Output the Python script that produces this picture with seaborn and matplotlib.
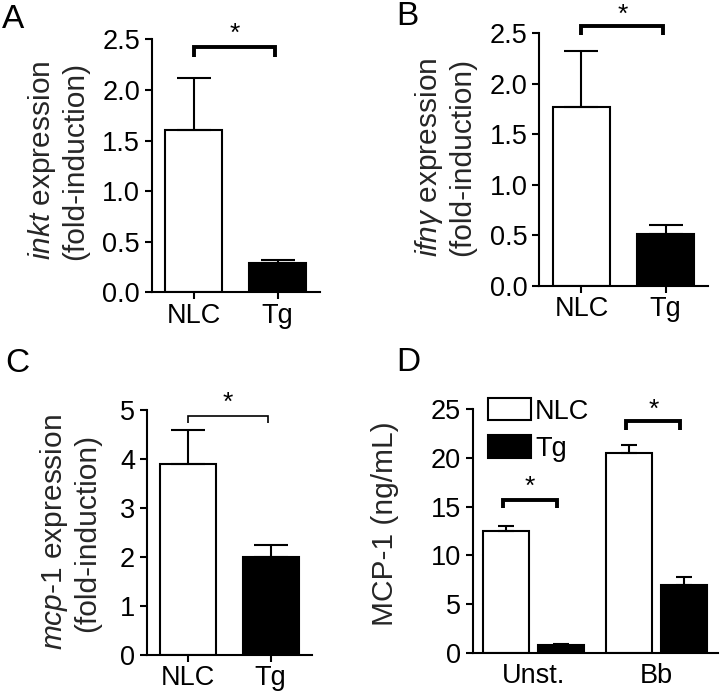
import numpy as np
import pandas as pd
import matplotlib
matplotlib.use("Agg")
import matplotlib.pyplot as plt
import seaborn as sns
from matplotlib.patches import Patch

# values (mean and upper error)
groups = ["NLC", "Tg"]
inkt_mean = [1.60, 0.29]
inkt_err = [0.52, 0.03]
ifng_mean = [1.77, 0.51]
ifng_err = [0.55, 0.09]
mcp1_mean = [3.90, 2.00]
mcp1_err = [0.70, 0.25]

conditions = ["Unst.", "Bb"]
elisa_nlc = [12.5, 20.5]
elisa_nlc_err = [0.5, 0.8]
elisa_tg = [0.8, 7.0]
elisa_tg_err = [0.1, 0.8]

sns.set_theme(style="ticks")
plt.rcParams["font.family"] = ["Liberation Sans", "DejaVu Sans"]
plt.rcParams["mathtext.fontset"] = "custom"
plt.rcParams["mathtext.rm"] = "Liberation Sans"
plt.rcParams["mathtext.it"] = "Liberation Sans:italic"
plt.rcParams["axes.linewidth"] = 1.5
plt.rcParams["xtick.major.width"] = 1.5
plt.rcParams["ytick.major.width"] = 1.5
plt.rcParams["xtick.major.size"] = 5
plt.rcParams["ytick.major.size"] = 5
plt.rcParams["xtick.major.pad"] = 2.5
plt.rcParams["xtick.labelsize"] = 19.5
plt.rcParams["ytick.labelsize"] = 19.5
plt.rcParams["xtick.color"] = "black"
plt.rcParams["ytick.color"] = "black"
plt.rcParams["axes.edgecolor"] = "black"
plt.rcParams["text.color"] = "black"

FS = 19      # stars
LFS = 21.5   # axis titles

fig = plt.figure(figsize=(7.2, 6.96), dpi=100)

ax_a = fig.add_axes([0.211, 0.580, 0.233, 0.3635])
ax_b = fig.add_axes([0.749, 0.589, 0.234, 0.3635])
ax_c = fig.add_axes([0.204, 0.0589, 0.229, 0.352])
ax_d = fig.add_axes([0.657, 0.0618, 0.340, 0.3505])


def bracket(ax, x1, x2, y, drop, lw, star_y):
    ax.plot([x1, x1, x2, x2], [y - drop, y, y, y - drop], color="black",
            lw=lw, clip_on=False, solid_capstyle="butt", solid_joinstyle="miter")
    ax.text((x1 + x2) / 2, star_y, "*", ha="center", va="center",
            fontsize=FS, clip_on=False)


def simple_panel(ax, means, errs, ymax, ystep, label, fmt):
    df = pd.DataFrame({"group": groups, "value": means})
    sns.barplot(data=df, x="group", y="value", hue="group",
                palette=["white", "black"], edgecolor="black", linewidth=1.5,
                width=0.68, errorbar=None, legend=False, ax=ax)
    centers = [p.get_x() + p.get_width() / 2 for p in ax.patches]
    ax.errorbar(centers, means, yerr=[np.zeros(len(errs)), errs], fmt="none",
                ecolor="black", elinewidth=1.5, capsize=12, capthick=1.5,
                zorder=1)
    ax.set_xlim(-0.5, 1.5)
    ax.set_ylim(0, ymax)
    ax.set_yticks(np.arange(0, ymax + 1e-9, ystep))
    ax.yaxis.set_major_formatter(matplotlib.ticker.FormatStrFormatter(fmt))
    ax.set_xlabel("")
    ax.set_ylabel(label, fontsize=LFS, linespacing=1.15)
    sns.despine(ax=ax)
    return centers


# panel A
c = simple_panel(ax_a, inkt_mean, inkt_err, 2.5, 0.5,
                 "$\\it{inkt}$ expression\n(fold-induction)", "%.1f")
ax_a.yaxis.set_label_coords(-0.375, 0.52)
bracket(ax_a, c[0], c[1] - 0.03, 2.42, 0.09, 2.8, 2.55)

# panel B
c = simple_panel(ax_b, ifng_mean, ifng_err, 2.5, 0.5,
                 "$\\it{ifn\\gamma}$ expression\n(fold-induction)", "%.1f")
ax_b.yaxis.set_label_coords(-0.373, 0.51)
bracket(ax_b, c[0], c[1] - 0.03, 2.57, 0.09, 2.8, 2.68)

# panel C
c = simple_panel(ax_c, mcp1_mean, mcp1_err, 5, 1,
                 "$\\it{mcp}$-$\\it{1}$ expression\n(fold-induction)", "%d")
ax_c.yaxis.set_label_coords(-0.279, 0.50)
bracket(ax_c, c[0], c[1] - 0.03, 4.88, 0.15, 1.2, 5.14)

# panel D
df_d = pd.DataFrame({
    "condition": conditions * 2,
    "group": ["NLC"] * 2 + ["Tg"] * 2,
    "value": elisa_nlc + elisa_tg,
})
sns.barplot(data=df_d, x="condition", y="value", hue="group",
            palette=["white", "black"], edgecolor="black", linewidth=1.5,
            width=0.9, gap=0.17, errorbar=None, ax=ax_d)
bars = [p for p in ax_d.patches if p.get_width() > 0]
bars = sorted(bars, key=lambda p: p.get_x())
d_centers = [p.get_x() + p.get_width() / 2 for p in bars]
d_means = [elisa_nlc[0], elisa_tg[0], elisa_nlc[1], elisa_tg[1]]
d_errs = [elisa_nlc_err[0], elisa_tg_err[0], elisa_nlc_err[1], elisa_tg_err[1]]
ax_d.errorbar(d_centers, d_means, yerr=[np.zeros(4), d_errs], fmt="none",
              ecolor="black", elinewidth=1.5, capsize=6, capthick=1.5, zorder=1)
ax_d.set_xlim(-0.49, 1.5)
ax_d.set_ylim(0, 25)
ax_d.set_yticks([0, 5, 10, 15, 20, 25])
ax_d.set_xlabel("")
ax_d.set_ylabel("MCP-1 (ng/mL)", fontsize=LFS)
ax_d.yaxis.set_label_coords(-0.302, 0.53)
ax_d.tick_params(axis="x", length=0, pad=7)
sns.despine(ax=ax_d)
ax_d.legend(handles=[Patch(facecolor="white", edgecolor="black", lw=1.5, label="NLC"),
                     Patch(facecolor="black", edgecolor="black", lw=1.5, label="Tg")],
            loc="upper left", bbox_to_anchor=(0.015, 1.09), frameon=False,
            fontsize=19.5, handlelength=1.6, handleheight=0.9,
            handletextpad=0.15, labelspacing=0.4, borderaxespad=0)
bracket(ax_d, d_centers[0] - 0.02, d_centers[1] - 0.03, 15.7, 0.8, 2.8, 17.0)
bracket(ax_d, d_centers[2] - 0.02, d_centers[3] - 0.03, 23.8, 0.9, 2.8, 24.9)

# panel letters
for x, y, s in [(0.003, 0.960, "A"), (0.551, 0.964, "B"),
                (0.007, 0.465, "C"), (0.551, 0.467, "D")]:
    fig.text(x, y, s, fontsize=24, ha="left", va="baseline")

fig.savefig("out.png", dpi=100)
